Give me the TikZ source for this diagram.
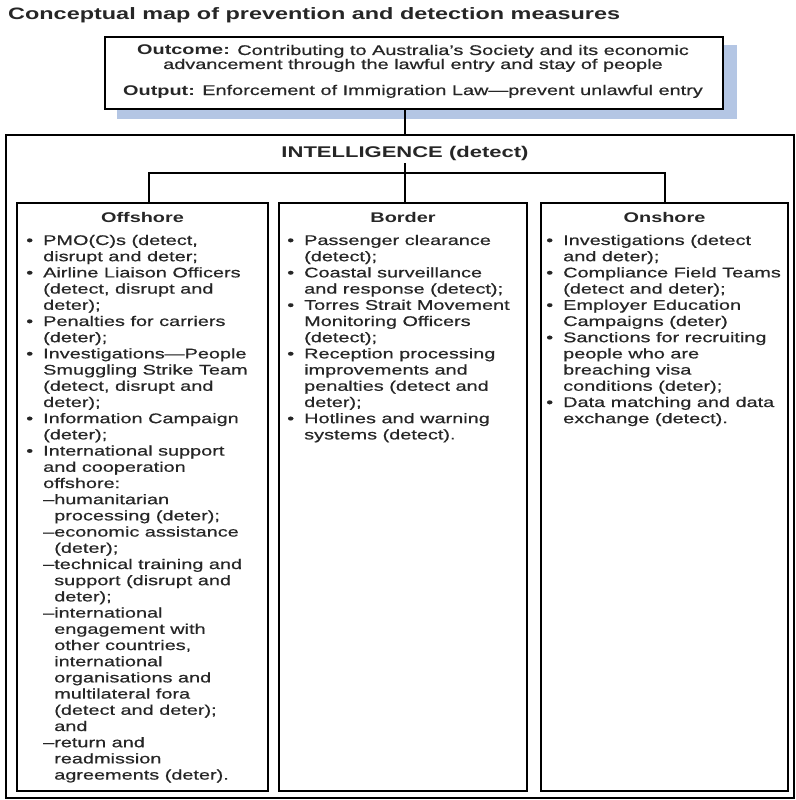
\documentclass[tikz,border=0pt]{standalone}
\usepackage{fontspec}
\setmainfont[FakeStretch=1.42, UprightFeatures={FakeBold=0.6}]{Liberation Sans}
\definecolor{shadowblue}{RGB}{180,198,228}
\definecolor{ink}{HTML}{262626}
\newcommand\mybul{\llap{•\hspace{10pt}}}
\newcommand\subind{\phantom{–}}
\begin{document}
\begin{tikzpicture}[x=1pt,y=-1pt,
  box/.style={draw=black, line width=1.5pt, inner sep=0pt, outer sep=0pt, anchor=north west},
  conn/.style={draw=black, line width=1.4pt},
  txt/.style={anchor=base west, inner sep=0pt, text=ink, font=\fontsize{14}{16}\selectfont},
  head/.style={anchor=base, inner sep=0pt, text=ink, font=\fontsize{14}{16}\selectfont\bfseries}]
\useasboundingbox (0,0) rectangle (795,800);
% title
\node[anchor=base west, inner sep=0pt, text=ink, font=\fontsize{16.5}{18}\selectfont\bfseries] (title) at (8,20) {Conceptual map of prevention and detection measures};
% top box with shadow
\fill[shadowblue] (117,45) rectangle (737,119);
\node[box, fill=white, minimum width=618pt, minimum height=72pt] (top) at (105,37) {};
\node[txt, anchor=base] (out1) at (413,55) {\textbf{Outcome:} Contributing to Australia's Society and its economic};
\node[txt, anchor=base] (out2) at (413,69) {advancement through the lawful entry and stay of people};
\node[txt, anchor=base] (outp) at (413,95) {\textbf{Output:} Enforcement of Immigration Law—prevent unlawful entry};
% outer box
\node[box, line width=1.2pt, minimum width=788pt, minimum height=663pt] (outer) at (6,135) {};
\node[head, font=\fontsize{15.5}{18}\selectfont\bfseries] (intel) at (405,157) {INTELLIGENCE (detect)};
% column boxes
\node[box, minimum width=251pt, minimum height=588pt] (off) at (17,203) {};
\node[box, minimum width=248pt, minimum height=588pt] (bor) at (279,203) {};
\node[box, minimum width=247pt, minimum height=588pt] (ons) at (541,203) {};
\node[head] (offh) at (142.5,222) {Offshore};
\node[head] (borh) at (403,222) {Border};
\node[head] (onsh) at (664.5,222) {Onshore};
% connectors
\coordinate (jc) at (405,173);
\coordinate (jl) at (149,173);
\coordinate (jr) at (665,173);
\draw[conn] (top.south -| intel) -- (outer.north -| intel);
\draw[conn] ([yshift=-3pt]intel.south) -- (jc) -- (jc |- bor.north);
\draw[conn] (jl |- off.north) -- (jl) -- (jr) -- (jr |- ons.north);
% offshore text
\foreach \t [count=\i from 0] in {
 {\mybul PMO(C)s (detect,},
 {disrupt and deter;},
 {\mybul Airline Liaison Officers},
 {(detect, disrupt and},
 {deter);},
 {\mybul Penalties for carriers},
 {(deter);},
 {\mybul Investigations—People},
 {Smuggling Strike Team},
 {(detect, disrupt and},
 {deter);},
 {\mybul Information Campaign},
 {(deter);},
 {\mybul International support},
 {and cooperation},
 {offshore:},
 {–humanitarian},
 {\subind processing (deter);},
 {–economic assistance},
 {\subind (deter);},
 {–technical training and},
 {\subind support (disrupt and},
 {\subind deter);},
 {–international},
 {\subind engagement with},
 {\subind other countries,},
 {\subind international},
 {\subind organisations and},
 {\subind multilateral fora},
 {\subind (detect and deter);},
 {\subind and},
 {–return and},
 {\subind readmission},
 {\subind agreements (deter).}}
 \node[txt] (offl\i) at (43,{245+16.2*\i}) {\t};
% border text
\foreach \t [count=\i from 0] in {
 {\mybul Passenger clearance},
 {(detect);},
 {\mybul Coastal surveillance},
 {and response (detect);},
 {\mybul Torres Strait Movement},
 {Monitoring Officers},
 {(detect);},
 {\mybul Reception processing},
 {improvements and},
 {penalties (detect and},
 {deter);},
 {\mybul Hotlines and warning},
 {systems (detect).}}
 \node[txt] (borl\i) at (304,{245+16.2*\i}) {\t};
% onshore text
\foreach \t [count=\i from 0] in {
 {\mybul Investigations (detect},
 {and deter);},
 {\mybul Compliance Field Teams},
 {(detect and deter);},
 {\mybul Employer Education},
 {Campaigns (deter)},
 {\mybul Sanctions for recruiting},
 {people who are},
 {breaching visa},
 {conditions (deter);},
 {\mybul Data matching and data},
 {exchange (detect).}}
 \node[txt] (onsl\i) at (563,{245+16.2*\i}) {\t};
\end{tikzpicture}
\end{document}
